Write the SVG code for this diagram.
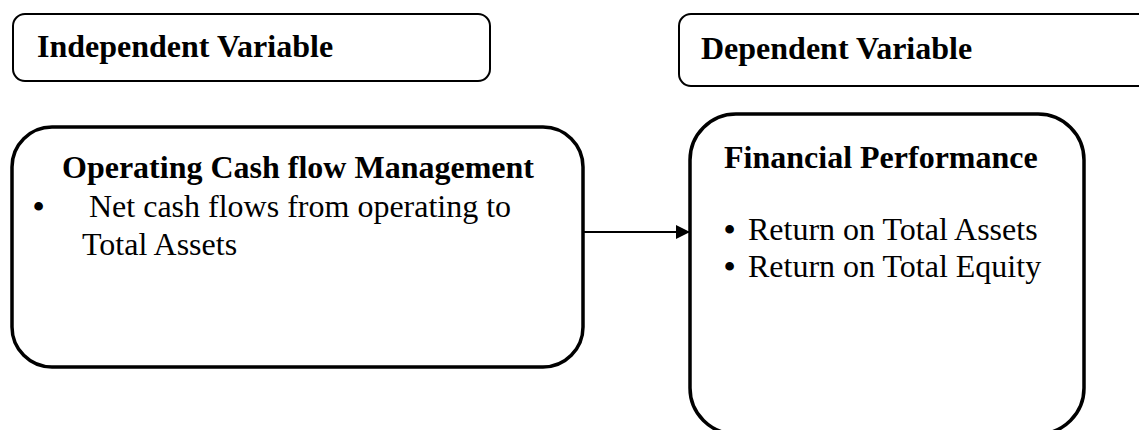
<svg xmlns="http://www.w3.org/2000/svg" width="1139" height="430" viewBox="0 0 1139 430">
<style>
.hdr{fill:#fff;stroke:#000;stroke-width:2}
.big{fill:#fff;stroke:#000;stroke-width:3.5}
.b{font-family:"Liberation Serif","Times New Roman",serif;font-weight:bold;font-size:32px;fill:#000}
.r{font-family:"Liberation Serif","Times New Roman",serif;font-size:32px;fill:#000}
.bul{font-weight:bold}
.conn{stroke:#000;stroke-width:2;fill:none}
</style>
<defs>
<marker id="ah" viewBox="0 0 14 14" refX="14" refY="7" markerWidth="14" markerHeight="14" markerUnits="userSpaceOnUse" orient="auto">
<path d="M0,0 L14,7 L0,14 Z" fill="#000"/>
</marker>
</defs>
<g id="independent-variable">
<rect class="hdr" x="13" y="14" width="477" height="67" rx="12"/>
<text class="b" x="37" y="57">Independent Variable</text>
</g>
<g id="dependent-variable">
<rect class="hdr" x="679" y="14" width="480" height="72" rx="12"/>
<text class="b" x="701" y="59">Dependent Variable</text>
</g>
<g id="operating-cash-flow">
<rect class="big" x="12" y="127" width="571" height="240" rx="40"/>
<text class="b" x="62" y="178">Operating Cash flow Management</text>
<text class="r" y="217"><tspan class="bul" x="33">•</tspan><tspan x="89">Net cash flows from operating to</tspan></text>
<text class="r" x="82" y="255">Total Assets</text>
</g>
<g id="financial-performance">
<rect class="big" x="690" y="114" width="394" height="320" rx="46"/>
<text class="b" x="724" y="168">Financial Performance</text>
<text class="r" y="240"><tspan class="bul" x="724">•</tspan><tspan x="748">Return on Total Assets</tspan></text>
<text class="r" y="277"><tspan class="bul" x="724">•</tspan><tspan x="748">Return on Total Equity</tspan></text>
</g>
<g id="connectors">
<line class="conn" x1="583" y1="232" x2="690" y2="232" marker-end="url(#ah)"/>
</g>
</svg>
